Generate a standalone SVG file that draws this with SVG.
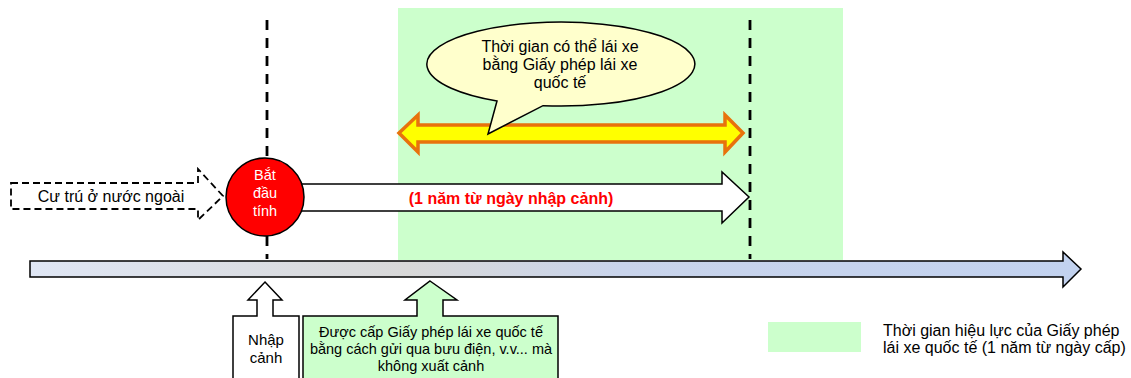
<svg xmlns="http://www.w3.org/2000/svg" width="1131" height="378" viewBox="0 0 1131 378">
  <defs>
    <linearGradient id="timelineFill" gradientUnits="userSpaceOnUse" x1="30" y1="0" x2="1081" y2="0">
      <stop offset="0" stop-color="#dfe6f4"/>
      <stop offset="0.36" stop-color="#d8d8d8"/>
      <stop offset="0.56" stop-color="#c9d4eb"/>
      <stop offset="1" stop-color="#c2d2ef"/>
    </linearGradient>
  </defs>
  <style>
    text { font-family: "Liberation Sans", Arial, sans-serif; fill: #000; }
    .t16 { font-size: 16px; }
    .t15 { font-size: 15px; }
    .t14 { font-size: 14.5px; }
    .mid { text-anchor: middle; }
    .green { fill: #ccffcc; }
    .outline { stroke: #000; stroke-width: 1.5; stroke-linejoin: miter; }
    .guide { stroke: #000; stroke-width: 2.8; stroke-dasharray: 10 8; fill: none; }
  </style>

  <!-- validity period of the international licence -->
  <rect id="validity-period" class="green" x="398" y="8" width="445" height="252"/>

  <!-- vertical dashed guides: entry date and one year after -->
  <g id="guides">
    <line class="guide" x1="267" y1="20" x2="267" y2="259"/>
    <line class="guide" x1="750" y1="20" x2="750" y2="259"/>
  </g>

  <g id="connectors">
    <!-- main time axis -->
    <polygon id="timeline" fill="url(#timelineFill)" class="outline"
      points="30,261 1063,261 1063,252 1081,269 1063,287 1063,277 30,277"/>
    <!-- one-year span from entry -->
    <polygon id="year-span" fill="#fff" class="outline"
      points="285,184 722,184 722,172 749,197 722,223 722,211 285,211"/>
    <!-- period the licence can be used -->
    <polygon id="drive-span" fill="#ffff00" stroke="#e8720c" stroke-width="3.5" stroke-linejoin="miter"
      points="399,133 418,115 418,125 725,125 725,115 743,133 725,152 725,142 418,142 418,152"/>
  </g>

  <g id="year-label">
    <text class="t16 mid" x="511" y="204" font-weight="bold" style="fill:#ff0000">(1 năm từ ngày nhập cảnh)</text>
  </g>

  <g id="abroad">
    <polygon fill="#fff" stroke="#000" stroke-width="1.8" stroke-dasharray="7 4"
      points="11,183 198,183 198,169 223,196 198,220 198,209 11,209"/>
    <text class="t16 mid" x="111" y="202">Cư trú ở nước ngoài</text>
  </g>

  <g id="start">
    <circle cx="265" cy="197" r="39" fill="#ff0000" class="outline"/>
    <text class="mid" x="265" y="180" font-size="14.5" style="fill:#fff">Bắt</text>
    <text class="mid" x="265" y="198" font-size="14.5" style="fill:#fff">đầu</text>
    <text class="mid" x="265" y="216" font-size="14.5" style="fill:#fff">tính</text>
  </g>

  <g id="callout">
    <path fill="#ffffcc" class="outline"
      d="M543,105.7 A134,42 0 1 0 497,101 L488,134 Z"/>
    <text class="t16 mid" x="560" y="52">Thời gian có thể lái xe</text>
    <text class="t16 mid" x="560" y="70">bằng Giấy phép lái xe</text>
    <text class="t16 mid" x="560" y="88">quốc tế</text>
  </g>

  <g id="entry">
    <polygon fill="#fff" class="outline"
      points="265,282 282,300 273,300 273,316 299,316 299,382 233,382 233,316 257,316 257,300 248,300"/>
    <text class="t15 mid" x="266" y="345">Nhập</text>
    <text class="t15 mid" x="266" y="363">cảnh</text>
  </g>

  <g id="issued-by-post">
    <polygon class="green outline"
      points="430,281 457,300 443,300 443,316 558,316 558,382 303,382 303,316 417,316 417,300 405,300"/>
    <text class="t14 mid" x="431" y="337">Được cấp Giấy phép lái xe quốc tế</text>
    <text class="t14 mid" x="431" y="354">bằng cách gửi qua bưu điện, v.v... mà</text>
    <text class="t14 mid" x="431" y="371">không xuất cảnh</text>
  </g>

  <g id="legend">
    <rect class="green" x="768" y="322" width="93" height="30"/>
    <text class="t16" x="883" y="336">Thời gian hiệu lực của Giấy phép</text>
    <text class="t16" x="883" y="353">lái xe quốc tế (1 năm từ ngày cấp)</text>
  </g>
</svg>
